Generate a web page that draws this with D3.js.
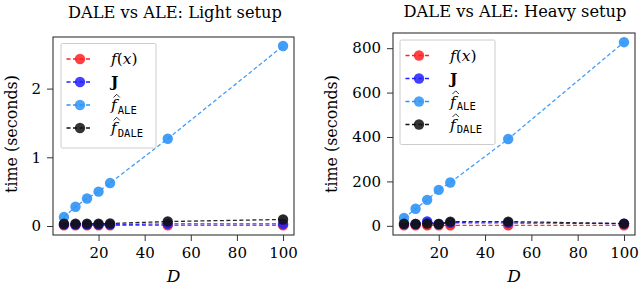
<!DOCTYPE html>
<meta charset="utf-8">
<script src="https://cdn.jsdelivr.net/npm/d3@7/dist/d3.min.js"></script>
<style>
body { margin: 0; background: #fff; }
text { font-family: "DejaVu Serif", serif; fill: #000; }
.frame { fill: none; stroke: #333; stroke-width: 1.1px; }
.tick line { stroke: #333; }
.domain { display: none; }
</style>
<body>
<script>

// x values shared by both panels
var dims = [5, 10, 15, 20, 25, 50, 100];

// light setup (seconds)
var lightFx   = [0.01, 0.01, 0.01, 0.01, 0.01, 0.01, 0.01];
var lightJ    = [0.02, 0.02, 0.02, 0.02, 0.02, 0.03, 0.03];
var lightAle  = [0.13, 0.28, 0.40, 0.50, 0.625, 1.27, 2.62];
var lightDale = [0.033, 0.033, 0.034, 0.035, 0.036, 0.065, 0.095];

// heavy setup (seconds)
var heavyFx   = [2, 2, 2, 2, 2, 2, 2];
var heavyJ    = [8, 8, 20, 8, 14, 13, 10];
var heavyAle  = [35, 77, 117, 162, 195, 391, 827];
var heavyDale = [9, 8, 10, 8, 19, 19, 10];

var xTicks = [20, 40, 60, 80, 100];
var lightYTicks = [0, 1, 2];
var heavyYTicks = [0, 200, 400, 600, 800];

var seriesNames = ["fx", "J", "ALE", "DALE"];
var colors = {fx: "#ff2020", J: "#2020ff", ALE: "#2e93f5", DALE: "#111"};

var svg = d3.select("body").append("svg")
    .attr("width", 640)
    .attr("height", 285);

// shrink/grow font so a text spans the wanted width
function fit(t, width, size) {
  t.style("font-size", size + "px");
  var w = t.node().getComputedTextLength();
  t.style("font-size", (size * width / w) + "px");
}

function panel(opt) {
  var g = svg.append("g");
  var x = d3.scaleLinear().domain([0.25, 104.75]).range([opt.left, opt.right]);
  var allY = [].concat(opt.data.fx, opt.data.J, opt.data.ALE, opt.data.DALE);
  var ymax = d3.max(allY), ymin = 0;
  var pad = (ymax - ymin) * 0.05;
  var y = d3.scaleLinear().domain([ymin - pad, ymax + pad]).range([opt.bottom, opt.top]);

  // axes
  g.append("g")
      .attr("transform", "translate(0," + opt.bottom + ")")
      .call(d3.axisBottom(x).tickValues(xTicks).tickFormat(d3.format("d")).tickSize(6).tickPadding(6));
  g.append("g")
      .attr("transform", "translate(" + opt.left + ",0)")
      .call(d3.axisLeft(y).tickValues(opt.yTicks).tickFormat(d3.format("d")).tickSize(6).tickPadding(6));
  g.selectAll(".tick text")
      .attr("fill", "#000")
      .style("font-family", "'DejaVu Serif', serif")
      .style("font-size", "15px");

  // lines + markers
  seriesNames.forEach(function(s) {
    var pts = dims.map(function(d, i) { return [d, opt.data[s][i]]; });
    var line = d3.line().x(function(p) { return x(p[0]); }).y(function(p) { return y(p[1]); });
    g.append("path")
        .attr("d", line(pts))
        .attr("fill", "none")
        .attr("stroke", colors[s])
        .attr("stroke-width", 1.3)
        .attr("stroke-dasharray", "4,2.5")
        .attr("opacity", 0.9);
    g.selectAll(".pt-" + s)
        .data(pts)
        .enter().append("circle")
        .attr("cx", function(p) { return x(p[0]); })
        .attr("cy", function(p) { return y(p[1]); })
        .attr("r", 5.2)
        .attr("fill", colors[s])
        .attr("opacity", 0.9);
  });

  g.append("rect").attr("class", "frame")
      .attr("x", opt.left).attr("y", opt.top)
      .attr("width", opt.right - opt.left).attr("height", opt.bottom - opt.top);

  // title and labels
  var title = g.append("text")
      .attr("x", opt.titleX).attr("y", opt.titleY)
      .attr("text-anchor", "middle")
      .text(opt.title);
  fit(title, opt.titleW, 15);
  var ylab = g.append("text")
      .attr("transform", "translate(" + opt.ylabX + "," + opt.ylabY + ") rotate(-90)")
      .attr("text-anchor", "middle")
      .text("time (seconds)");
  fit(ylab, 118, 15);
  g.append("text")
      .attr("x", (opt.left + opt.right) / 2).attr("y", 282)
      .attr("text-anchor", "middle")
      .style("font-size", "17px").style("font-style", "italic")
      .text("D");

  // legend
  var lg = g.append("g").attr("transform", "translate(" + opt.legX + "," + opt.legY + ")");
  lg.append("rect")
      .attr("width", 95).attr("height", 104.5).attr("rx", 1.5)
      .attr("fill", "#fff").attr("fill-opacity", 0.8)
      .attr("stroke", "#ccc");
  seriesNames.forEach(function(s, i) {
    var yy = 15.5 + i * 23;
    lg.append("line").attr("x1", 5.5).attr("x2", 30.5).attr("y1", yy).attr("y2", yy)
        .attr("stroke", colors[s]).attr("stroke-width", 1.3).attr("stroke-dasharray", "4,2.5");
    lg.append("circle").attr("cx", 19).attr("cy", yy).attr("r", 5.2)
        .attr("fill", colors[s]).attr("opacity", 0.85);
    var t = lg.append("text").attr("x", 50).attr("y", yy + 5)
        .style("font-size", "15.5px");
    if (s === "fx") {
      t.append("tspan").style("font-style", "italic").text("f");
      t.append("tspan").text("(");
      t.append("tspan").style("font-style", "italic").text("x");
      t.append("tspan").text(")");
    } else if (s === "J") {
      t.style("font-weight", "bold").text("J");
    } else {
      t.append("tspan").style("font-style", "italic").text("f");
      t.append("tspan").attr("dx", 1).attr("dy", 3.5).style("font-size", "10.5px")
          .style("font-family", "'DejaVu Sans Mono', monospace")
          .text(s);
      // the hat over f
      lg.append("path")
          .attr("d", "M" + 52.5 + "," + (yy - 7.5) + "l3.2,-3.2l3.2,3.2")
          .attr("fill", "none").attr("stroke", "#000").attr("stroke-width", 0.8);
    }
  });
}

panel({
  left: 53, right: 294, top: 37, bottom: 235,
  data: {fx: lightFx, J: lightJ, ALE: lightAle, DALE: lightDale},
  yTicks: lightYTicks, title: "DALE vs ALE: Light setup",
  titleX: 175, titleY: 18, titleW: 214,
  legX: 61, legY: 43.5, ylabX: 17, ylabY: 134
});

panel({
  left: 393, right: 635, top: 33, bottom: 235,
  data: {fx: heavyFx, J: heavyJ, ALE: heavyAle, DALE: heavyDale},
  yTicks: heavyYTicks, title: "DALE vs ALE: Heavy setup",
  titleX: 515, titleY: 17, titleW: 223,
  legX: 400, legY: 40, ylabX: 337, ylabY: 134
});

</script>
</body>
